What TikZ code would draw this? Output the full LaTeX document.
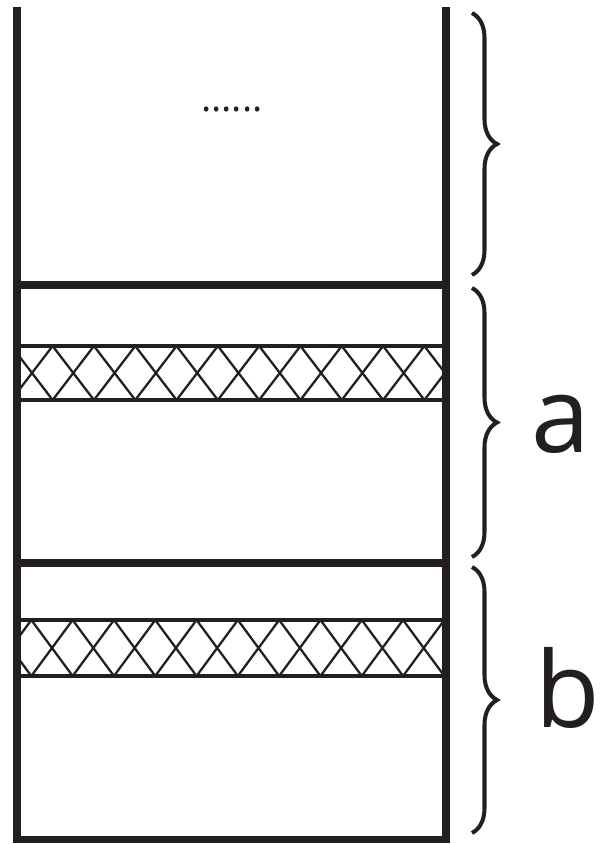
\documentclass[tikz,border=0pt]{standalone}
\usepackage{fontspec}
\setmainfont{Open Sans}
\usepackage{tikz}
\usetikzlibrary{decorations.pathreplacing}
\definecolor{encre}{HTML}{231F20}

\begin{document}
\begin{tikzpicture}[
  mur/.style={draw=encre,line width=4.5pt,line join=miter},
  bande/.style={draw=encre,line width=2.3pt},
  hachure/.style={draw=encre,line width=1.3pt},
  accolade/.style={draw=encre,decorate,decoration={brace,amplitude=0.5cm},line width=2.3pt},
  lettre/.style={text=encre,font=\fontsize{60}{60}\selectfont,inner sep=0pt,anchor=base}]
  \useasboundingbox (0,0) rectangle (12,16.88);
  % parois et cloisons
  \draw[mur] (0.34,16.74) -- (0.34,0.09) -- (8.92,0.09) -- (8.92,16.74);
  \foreach \y in {11.18,5.62}
    \draw[mur] (0.34,\y) -- (8.92,\y);
  % bandes hachurees
  \foreach \h/\b/\d in {9.96/8.88/0.64, 4.48/3.36/1.04}{
    \begin{scope}
      \clip (0.42,\b) rectangle (8.84,\h);
      \foreach \k in {-1,...,11}{
        \draw[hachure] ({\d+0.826*\k-0.413},\b) -- ({\d+0.826*\k+0.413},\h);
        \draw[hachure] ({\d+0.826*\k-0.413},\h) -- ({\d+0.826*\k+0.413},\b);
      }
    \end{scope}
    \draw[bande] (0.34,\h) -- (8.92,\h) (0.34,\b) -- (8.92,\b);
  }
  \node[text=encre,font=\fontsize{22}{22}\selectfont,inner sep=0pt,anchor=base] (pts) at (4.64,14.64) {......};
  % accolades
  \foreach \h/\b [count=\i] in {16.62/11.38, 11.12/5.74, 5.54/0.22}{
    \coordinate (h\i) at (9.44,\h);
    \coordinate (b\i) at (9.44,\b);
    \draw[accolade] (h\i) -- (b\i);
  }
  \node[lettre] (la) at (11.22,7.82) {a};
  \node[lettre] (lb) at (11.36,2.32) {b};
\end{tikzpicture}
\end{document}
